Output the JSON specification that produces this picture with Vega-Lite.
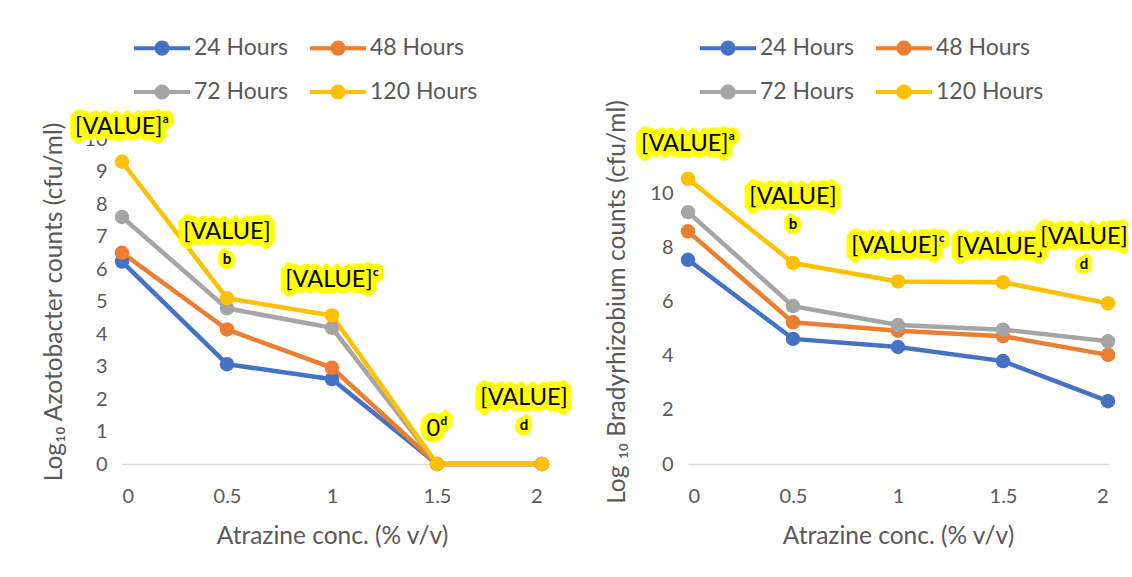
{
  "$schema": "https://vega.github.io/schema/vega-lite/v6.json",
  "background": "white",
  "padding": {"left": 41, "top": 32, "right": 0, "bottom": 0},
  "config": {
    "font": "Lato",
    "view": {"stroke": null},
    "concat": {"spacing": 36},
    "axis": {"labelColor": "#595959", "titleColor": "#595959", "labelFontSize": 20, "titleFontSize": 24.5, "titleFontWeight": "normal", "grid": false, "ticks": false, "domainColor": "#D9D9D9", "domainWidth": 1.5, "labelFont": "Lato", "titleFont": "Lato"},
    "legend": {"orient": "none", "direction": "horizontal", "columns": 2, "labelFontSize": 23, "labelColor": "#595959", "labelFont": "Lato", "symbolType": "M-2,0H2M0.4,0A0.4,0.4 0 1 1 -0.4,0A0.4,0.4 0 1 1 0.4,0", "symbolSize": 784, "symbolStrokeWidth": 4, "labelOffset": 16, "columnPadding": 14, "rowPadding": 14, "padding": 0, "title": null}
  },
  "datasets": {
    "left": [
      {"x": 0, "y": 6.23, "s": "24 Hours"}, {"x": 0.5, "y": 3.07, "s": "24 Hours"}, {"x": 1, "y": 2.61, "s": "24 Hours"}, {"x": 1.5, "y": 0, "s": "24 Hours"}, {"x": 2, "y": 0, "s": "24 Hours"},
      {"x": 0, "y": 6.5, "s": "48 Hours"}, {"x": 0.5, "y": 4.14, "s": "48 Hours"}, {"x": 1, "y": 2.96, "s": "48 Hours"}, {"x": 1.5, "y": 0, "s": "48 Hours"}, {"x": 2, "y": 0, "s": "48 Hours"},
      {"x": 0, "y": 7.6, "s": "72 Hours"}, {"x": 0.5, "y": 4.79, "s": "72 Hours"}, {"x": 1, "y": 4.19, "s": "72 Hours"}, {"x": 1.5, "y": 0, "s": "72 Hours"}, {"x": 2, "y": 0, "s": "72 Hours"},
      {"x": 0, "y": 9.3, "s": "120 Hours"}, {"x": 0.5, "y": 5.1, "s": "120 Hours"}, {"x": 1, "y": 4.57, "s": "120 Hours"}, {"x": 1.5, "y": 0, "s": "120 Hours"}, {"x": 2, "y": 0, "s": "120 Hours"}
    ],
    "right": [
      {"x": 0, "y": 7.54, "s": "24 Hours"}, {"x": 0.5, "y": 4.62, "s": "24 Hours"}, {"x": 1, "y": 4.32, "s": "24 Hours"}, {"x": 1.5, "y": 3.8, "s": "24 Hours"}, {"x": 2, "y": 2.32, "s": "24 Hours"},
      {"x": 0, "y": 8.59, "s": "48 Hours"}, {"x": 0.5, "y": 5.23, "s": "48 Hours"}, {"x": 1, "y": 4.92, "s": "48 Hours"}, {"x": 1.5, "y": 4.72, "s": "48 Hours"}, {"x": 2, "y": 4.03, "s": "48 Hours"},
      {"x": 0, "y": 9.3, "s": "72 Hours"}, {"x": 0.5, "y": 5.83, "s": "72 Hours"}, {"x": 1, "y": 5.13, "s": "72 Hours"}, {"x": 1.5, "y": 4.96, "s": "72 Hours"}, {"x": 2, "y": 4.53, "s": "72 Hours"},
      {"x": 0, "y": 10.53, "s": "120 Hours"}, {"x": 0.5, "y": 7.42, "s": "120 Hours"}, {"x": 1, "y": 6.74, "s": "120 Hours"}, {"x": 1.5, "y": 6.71, "s": "120 Hours"}, {"x": 2, "y": 5.93, "s": "120 Hours"}
    ],
    "leftLabels": [
      {"x": 0, "y": 9.3, "t": "[VALUE]ᵃ", "s": "", "k": "one"},
      {"x": 0.5, "y": 5.1, "t": "[VALUE]", "s": "b", "k": "two"},
      {"x": 1, "y": 4.57, "t": "[VALUE]ᶜ", "s": "", "k": "one"},
      {"x": 1.5, "y": 0, "t": "0ᵈ", "s": "", "k": "one"},
      {"x": 2, "y": 0, "t": "[VALUE]", "s": "d", "k": "twoR"}
    ],
    "rightLabels": [
      {"x": 0, "y": 10.53, "t": "[VALUE]ᵃ", "s": "", "k": "one"},
      {"x": 0.5, "y": 7.42, "t": "[VALUE]", "s": "b", "k": "two"},
      {"x": 1, "y": 6.74, "t": "[VALUE]ᶜ", "s": "", "k": "one"},
      {"x": 1.5, "y": 6.71, "t": "[VALUE]ᶜ", "s": "", "k": "one"},
      {"x": 2, "y": 5.93, "t": "[VALUE]", "s": "d", "k": "twoR"}
    ]
  },
  "resolve": {"scale": {"color": "independent", "y": "independent", "x": "independent"}, "legend": {"color": "independent"}},
  "hconcat": [
    {
      "width": 420, "height": 325,
      "encoding": {
        "x": {"field": "x", "type": "quantitative", "scale": {"domain": [0, 2], "nice": false, "zero": false}, "axis": {"values": [0, 0.5, 1, 1.5, 2], "format": "~g", "title": "Atrazine conc. (% v/v)", "labelPadding": 22, "titlePadding": 18}},
        "y": {"field": "y", "type": "quantitative", "scale": {"domain": [0, 10], "nice": false}, "axis": {"values": [0, 1, 2, 3, 4, 5, 6, 7, 8, 9, 10], "domain": false, "title": "Log₁₀ Azotobacter counts (cfu/ml)", "labelPadding": 15, "titlePadding": 17}}
      },
      "layer": [
        {"data": {"name": "left"}, "mark": {"type": "line", "strokeWidth": 4.5},
         "encoding": {"color": {"field": "s", "type": "nominal", "scale": {"domain": ["24 Hours", "48 Hours", "72 Hours", "120 Hours"], "range": ["#4472C4", "#ED7D31", "#A5A5A5", "#FFC000"]}, "legend": {"legendX": 24, "legendY": -107}}}},
        {"data": {"name": "left"}, "mark": {"type": "point", "filled": true, "size": 210, "opacity": 1},
         "encoding": {"color": {"field": "s", "type": "nominal", "scale": {"domain": ["24 Hours", "48 Hours", "72 Hours", "120 Hours"], "range": ["#4472C4", "#ED7D31", "#A5A5A5", "#FFC000"]}, "legend": {"legendX": 24, "legendY": -107}}}},
        {"data": {"name": "leftLabels"}, "encoding": {"text": {"field": "t"}},
         "layer": [
           {"transform": [{"filter": "datum.k == 'one'"}], "mark": {"type": "text", "fontSize": 23.5, "baseline": "middle", "dy": -35, "fill": "#FFFF00", "stroke": "#FFFF00", "strokeWidth": 13, "strokeJoin": "bevel"}},
           {"transform": [{"filter": "datum.k == 'one'"}], "mark": {"type": "text", "fontSize": 23.5, "baseline": "middle", "dy": -35, "fill": "#000000"}},
           {"transform": [{"filter": "datum.k == 'two'"}], "mark": {"type": "text", "fontSize": 23.5, "baseline": "middle", "dy": -66, "fill": "#FFFF00", "stroke": "#FFFF00", "strokeWidth": 13, "strokeJoin": "bevel"}},
           {"transform": [{"filter": "datum.k == 'two'"}], "mark": {"type": "text", "fontSize": 23.5, "baseline": "middle", "dy": -66, "fill": "#000000"}},
           {"transform": [{"filter": "datum.k == 'twoR'"}], "mark": {"type": "text", "fontSize": 23.5, "baseline": "middle", "dy": -66, "dx": -18, "fill": "#FFFF00", "stroke": "#FFFF00", "strokeWidth": 13, "strokeJoin": "bevel"}},
           {"transform": [{"filter": "datum.k == 'twoR'"}], "mark": {"type": "text", "fontSize": 23.5, "baseline": "middle", "dy": -66, "dx": -18, "fill": "#000000"}},
           {"transform": [{"filter": "datum.k == 'two'"}], "encoding": {"text": {"field": "s"}}, "mark": {"type": "text", "fontSize": 15, "fontWeight": "bold", "baseline": "middle", "dy": -39, "fill": "#FFFF00", "stroke": "#FFFF00", "strokeWidth": 10, "strokeJoin": "bevel"}},
           {"transform": [{"filter": "datum.k == 'two'"}], "encoding": {"text": {"field": "s"}}, "mark": {"type": "text", "fontSize": 15, "fontWeight": "bold", "baseline": "middle", "dy": -39, "fill": "#000000"}},
           {"transform": [{"filter": "datum.k == 'twoR'"}], "encoding": {"text": {"field": "s"}}, "mark": {"type": "text", "fontSize": 15, "fontWeight": "bold", "baseline": "middle", "dy": -39, "dx": -18, "fill": "#FFFF00", "stroke": "#FFFF00", "strokeWidth": 10, "strokeJoin": "bevel"}},
           {"transform": [{"filter": "datum.k == 'twoR'"}], "encoding": {"text": {"field": "s"}}, "mark": {"type": "text", "fontSize": 15, "fontWeight": "bold", "baseline": "middle", "dy": -39, "dx": -18, "fill": "#000000"}}
         ]}
      ]
    },
    {
      "width": 420, "height": 325,
      "encoding": {
        "x": {"field": "x", "type": "quantitative", "scale": {"domain": [0, 2], "nice": false, "zero": false}, "axis": {"values": [0, 0.5, 1, 1.5, 2], "format": "~g", "title": "Atrazine conc. (% v/v)", "labelPadding": 22, "titlePadding": 18}},
        "y": {"field": "y", "type": "quantitative", "scale": {"domain": [0, 12], "nice": false}, "axis": {"values": [0, 2, 4, 6, 8, 10, 12], "domain": false, "title": "Log ₁₀ Bradyrhizobium counts (cfu/ml)", "labelPadding": 15, "titlePadding": 20}}
      },
      "layer": [
        {"data": {"name": "right"}, "mark": {"type": "line", "strokeWidth": 4.5},
         "encoding": {"color": {"field": "s", "type": "nominal", "scale": {"domain": ["24 Hours", "48 Hours", "72 Hours", "120 Hours"], "range": ["#4472C4", "#ED7D31", "#A5A5A5", "#FFC000"]}, "legend": {"legendX": 24, "legendY": -107}}}},
        {"data": {"name": "right"}, "mark": {"type": "point", "filled": true, "size": 210, "opacity": 1},
         "encoding": {"color": {"field": "s", "type": "nominal", "scale": {"domain": ["24 Hours", "48 Hours", "72 Hours", "120 Hours"], "range": ["#4472C4", "#ED7D31", "#A5A5A5", "#FFC000"]}, "legend": {"legendX": 24, "legendY": -107}}}},
        {"data": {"name": "rightLabels"}, "encoding": {"text": {"field": "t"}},
         "layer": [
           {"transform": [{"filter": "datum.k == 'one'"}], "mark": {"type": "text", "fontSize": 23.5, "baseline": "middle", "dy": -35, "fill": "#FFFF00", "stroke": "#FFFF00", "strokeWidth": 13, "strokeJoin": "bevel"}},
           {"transform": [{"filter": "datum.k == 'one'"}], "mark": {"type": "text", "fontSize": 23.5, "baseline": "middle", "dy": -35, "fill": "#000000"}},
           {"transform": [{"filter": "datum.k == 'two'"}], "mark": {"type": "text", "fontSize": 23.5, "baseline": "middle", "dy": -66, "fill": "#FFFF00", "stroke": "#FFFF00", "strokeWidth": 13, "strokeJoin": "bevel"}},
           {"transform": [{"filter": "datum.k == 'two'"}], "mark": {"type": "text", "fontSize": 23.5, "baseline": "middle", "dy": -66, "fill": "#000000"}},
           {"transform": [{"filter": "datum.k == 'twoR'"}], "mark": {"type": "text", "fontSize": 23.5, "baseline": "middle", "dy": -66, "dx": -24, "fill": "#FFFF00", "stroke": "#FFFF00", "strokeWidth": 13, "strokeJoin": "bevel"}},
           {"transform": [{"filter": "datum.k == 'twoR'"}], "mark": {"type": "text", "fontSize": 23.5, "baseline": "middle", "dy": -66, "dx": -24, "fill": "#000000"}},
           {"transform": [{"filter": "datum.k == 'two'"}], "encoding": {"text": {"field": "s"}}, "mark": {"type": "text", "fontSize": 15, "fontWeight": "bold", "baseline": "middle", "dy": -39, "fill": "#FFFF00", "stroke": "#FFFF00", "strokeWidth": 10, "strokeJoin": "bevel"}},
           {"transform": [{"filter": "datum.k == 'two'"}], "encoding": {"text": {"field": "s"}}, "mark": {"type": "text", "fontSize": 15, "fontWeight": "bold", "baseline": "middle", "dy": -39, "fill": "#000000"}},
           {"transform": [{"filter": "datum.k == 'twoR'"}], "encoding": {"text": {"field": "s"}}, "mark": {"type": "text", "fontSize": 15, "fontWeight": "bold", "baseline": "middle", "dy": -39, "dx": -24, "fill": "#FFFF00", "stroke": "#FFFF00", "strokeWidth": 10, "strokeJoin": "bevel"}},
           {"transform": [{"filter": "datum.k == 'twoR'"}], "encoding": {"text": {"field": "s"}}, "mark": {"type": "text", "fontSize": 15, "fontWeight": "bold", "baseline": "middle", "dy": -39, "dx": -24, "fill": "#000000"}}
         ]}
      ]
    }
  ]
}
